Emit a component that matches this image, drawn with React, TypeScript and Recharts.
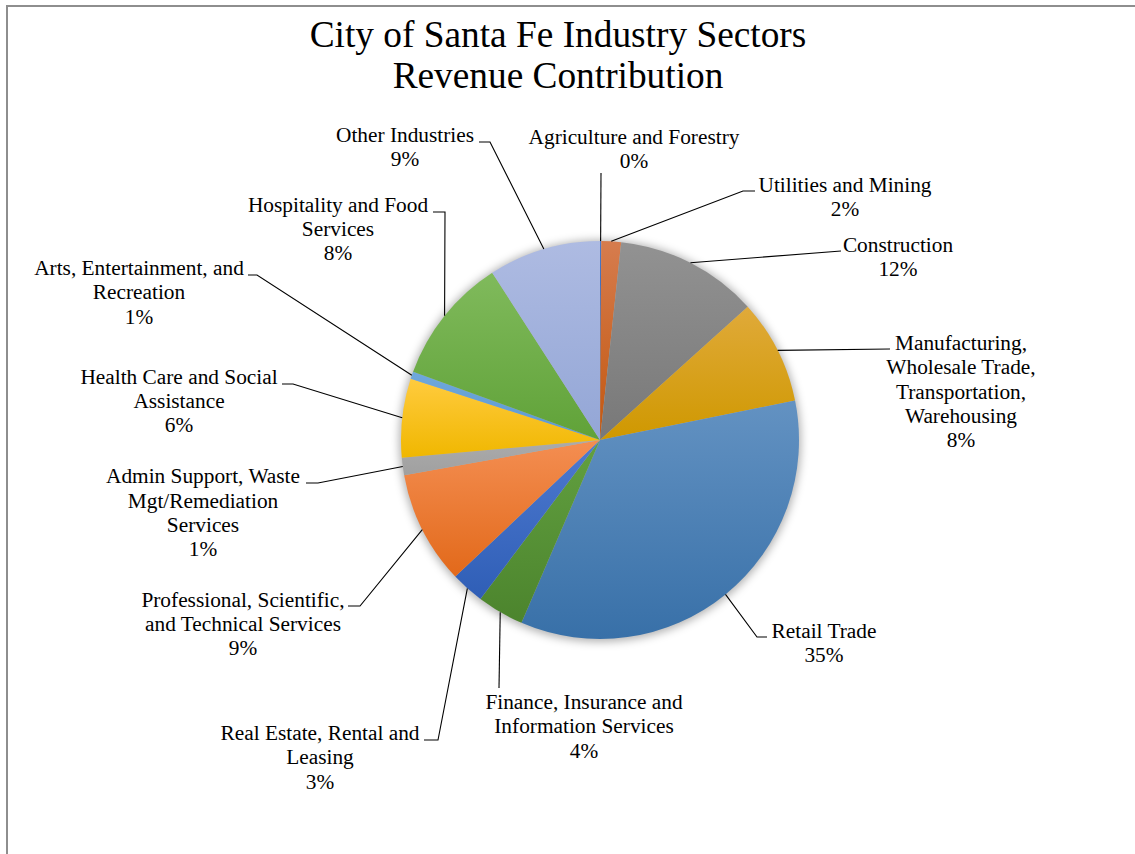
import React from "react";
import { PieChart, Pie, Cell } from "recharts";

// ---------- data ----------
const categories = [
  "Agriculture and Forestry",
  "Utilities and Mining",
  "Construction",
  "Manufacturing, Wholesale Trade, Transportation, Warehousing",
  "Retail Trade",
  "Finance, Insurance and Information Services",
  "Real Estate, Rental and Leasing",
  "Professional, Scientific, and Technical Services",
  "Admin Support, Waste Mgt/Remediation Services",
  "Health Care and Social Assistance",
  "Arts, Entertainment, and Recreation",
  "Hospitality and Food Services",
  "Other Industries",
];
const shares = [0.1, 1.6, 11.6, 8.5, 34.6, 3.8, 2.7, 9.2, 1.4, 6.4, 0.6, 10.3, 9.1];
const shareLabels = ["0%", "2%", "12%", "8%", "35%", "4%", "3%", "9%", "1%", "6%", "1%", "8%", "9%"];
const titleLines = ["City of Santa Fe Industry Sectors", "Revenue Contribution"];

// ---------- layout / style ----------
const wrappedNames: string[][] = [
  ["Agriculture and Forestry"],
  ["Utilities and Mining"],
  ["Construction"],
  ["Manufacturing,", "Wholesale Trade,", "Transportation,", "Warehousing"],
  ["Retail Trade"],
  ["Finance, Insurance and", "Information Services"],
  ["Real Estate, Rental and", "Leasing"],
  ["Professional, Scientific,", "and Technical Services"],
  ["Admin Support, Waste", "Mgt/Remediation", "Services"],
  ["Health Care and Social", "Assistance"],
  ["Arts, Entertainment, and", "Recreation"],
  ["Hospitality and Food", "Services"],
  ["Other Industries"],
];
// label text centre / first baseline and leader bends, as offsets from the pie centre
const labelLayout: { tx: number; ty: number; pts: number[][] }[] = [
  { tx: 34, ty: -296, pts: [[1, -267]] },
  { tx: 245, ty: -248.3, pts: [[143, -249], [155, -249]] },
  { tx: 298, ty: -188.5, pts: [[241, -189]] },
  { tx: 361, ty: -90, pts: [[290, -91]] },
  { tx: 224, ty: 198, pts: [[157, 197], [167, 197]] },
  { tx: -16, ty: 269, pts: [[-101, 248]] },
  { tx: -280, ty: 300, pts: [[-162, 300], [-176, 300]] },
  { tx: -357, ty: 166.5, pts: [[-240, 166], [-252, 166]] },
  { tx: -397, ty: 43.3, pts: [[-282, 43], [-294, 43]] },
  { tx: -421, ty: -56.5, pts: [[-307, -56], [-318, -56]] },
  { tx: -461, ty: -165, pts: [[-343, -165], [-352, -165]] },
  { tx: -262, ty: -228.3, pts: [[-155, -228], [-167, -228]] },
  { tx: -195, ty: -298.3, pts: [[-110, -298], [-121, -298]] },
];
const palette: [string, string][] = [
  ["#4A78C8", "#2F5597"],
  ["#D67C4E", "#C2570F"],
  ["#929292", "#787878"],
  ["#E0AA3A", "#CF9800"],
  ["#6392C2", "#3870A8"],
  ["#62A040", "#4C842D"],
  ["#4E7AD0", "#2F5EB6"],
  ["#F48E52", "#E2691A"],
  ["#ABABAB", "#A0A0A0"],
  ["#FFCB3E", "#F0B700"],
  ["#6FA8DC", "#5A98D2"],
  ["#80BA5C", "#60A238"],
  ["#AEBBE2", "#93A6D6"],
];

const FONT = "'Liberation Serif', 'Times New Roman', serif";
const LABEL_SIZE = 21.33;
const LINE_H = 24.3;
const RAD = Math.PI / 180;

const data = categories.map((name, i) => ({ name, value: shares[i] }));

const renderLabel = (props: any) => {
  const { cx, cy, midAngle, outerRadius, index } = props;
  const lay = labelLayout[index];
  const sx = cx + outerRadius * Math.cos(-midAngle * RAD);
  const sy = cy + outerRadius * Math.sin(-midAngle * RAD);
  const pts = [[sx, sy], ...lay.pts.map(([dx, dy]) => [cx + dx, cy + dy])];
  const lines = [...wrappedNames[index], shareLabels[index]];
  return (
    <g key={`lbl-${index}`}>
      <polyline
        points={pts.map((p) => p.join(",")).join(" ")}
        fill="none"
        stroke="#000"
        strokeWidth={1.1}
      />
      <text
        x={cx + lay.tx}
        y={cy + lay.ty}
        textAnchor="middle"
        fontFamily={FONT}
        fontSize={LABEL_SIZE}
        fill="#000"
      >
        {lines.map((l, k) => (
          <tspan key={k} x={cx + lay.tx} y={cy + lay.ty + k * LINE_H}>
            {l}
          </tspan>
        ))}
      </text>
    </g>
  );
};

export default function App() {
  return (
    <div
      style={{
        position: "absolute",
        left: 0,
        top: 0,
        width: 1135,
        height: 854,
        overflow: "hidden",
        background: "#fff",
      }}
    >
      <div
        style={{
          position: "absolute",
          left: 6,
          top: 5,
          width: 1300,
          height: 1000,
          borderTop: "2px solid #8e8e8e",
          borderLeft: "2px solid #8e8e8e",
        }}
      />
      <div style={{ position: "absolute", left: 0, top: 0 }}>
        <PieChart width={1135} height={854} margin={{ top: 0, right: 0, bottom: 0, left: 0 }}>
          <defs>
            <filter id="pieShadow" x="-20%" y="-20%" width="140%" height="140%">
              <feGaussianBlur stdDeviation="4" />
            </filter>
            {palette.map(([a, b], i) => (
              <linearGradient key={i} id={`grad${i}`} x1="0" y1="0" x2="0" y2="1">
                <stop offset="0%" stopColor={a} />
                <stop offset="100%" stopColor={b} />
              </linearGradient>
            ))}
          </defs>
          <Pie
            data={[{ name: "shadow", value: 1 }]}
            dataKey="value"
            cx={600}
            cy={441}
            outerRadius={201}
            startAngle={90}
            endAngle={-270}
            stroke="none"
            isAnimationActive={false}
            legendType="none"
          >
            <Cell fill="#000" fillOpacity={0.3} filter="url(#pieShadow)" />
          </Pie>
          <Pie
            data={data}
            dataKey="value"
            nameKey="name"
            cx={600}
            cy={440}
            outerRadius={199}
            startAngle={90}
            endAngle={-270}
            stroke="none"
            isAnimationActive={false}
            label={renderLabel}
            labelLine={false}
          >
            {data.map((d, i) => (
              <Cell key={d.name} fill={`url(#grad${i})`} />
            ))}
          </Pie>
        </PieChart>
      </div>
      <svg
        width={1135}
        height={120}
        style={{ position: "absolute", left: 0, top: 0, pointerEvents: "none" }}
      >
        {titleLines.map((t, i) => (
          <text
            key={t}
            x={558}
            y={47 + i * 41}
            textAnchor="middle"
            fontFamily={FONT}
            fontSize={37.33}
            fill="#000"
          >
            {t}
          </text>
        ))}
      </svg>
    </div>
  );
}
